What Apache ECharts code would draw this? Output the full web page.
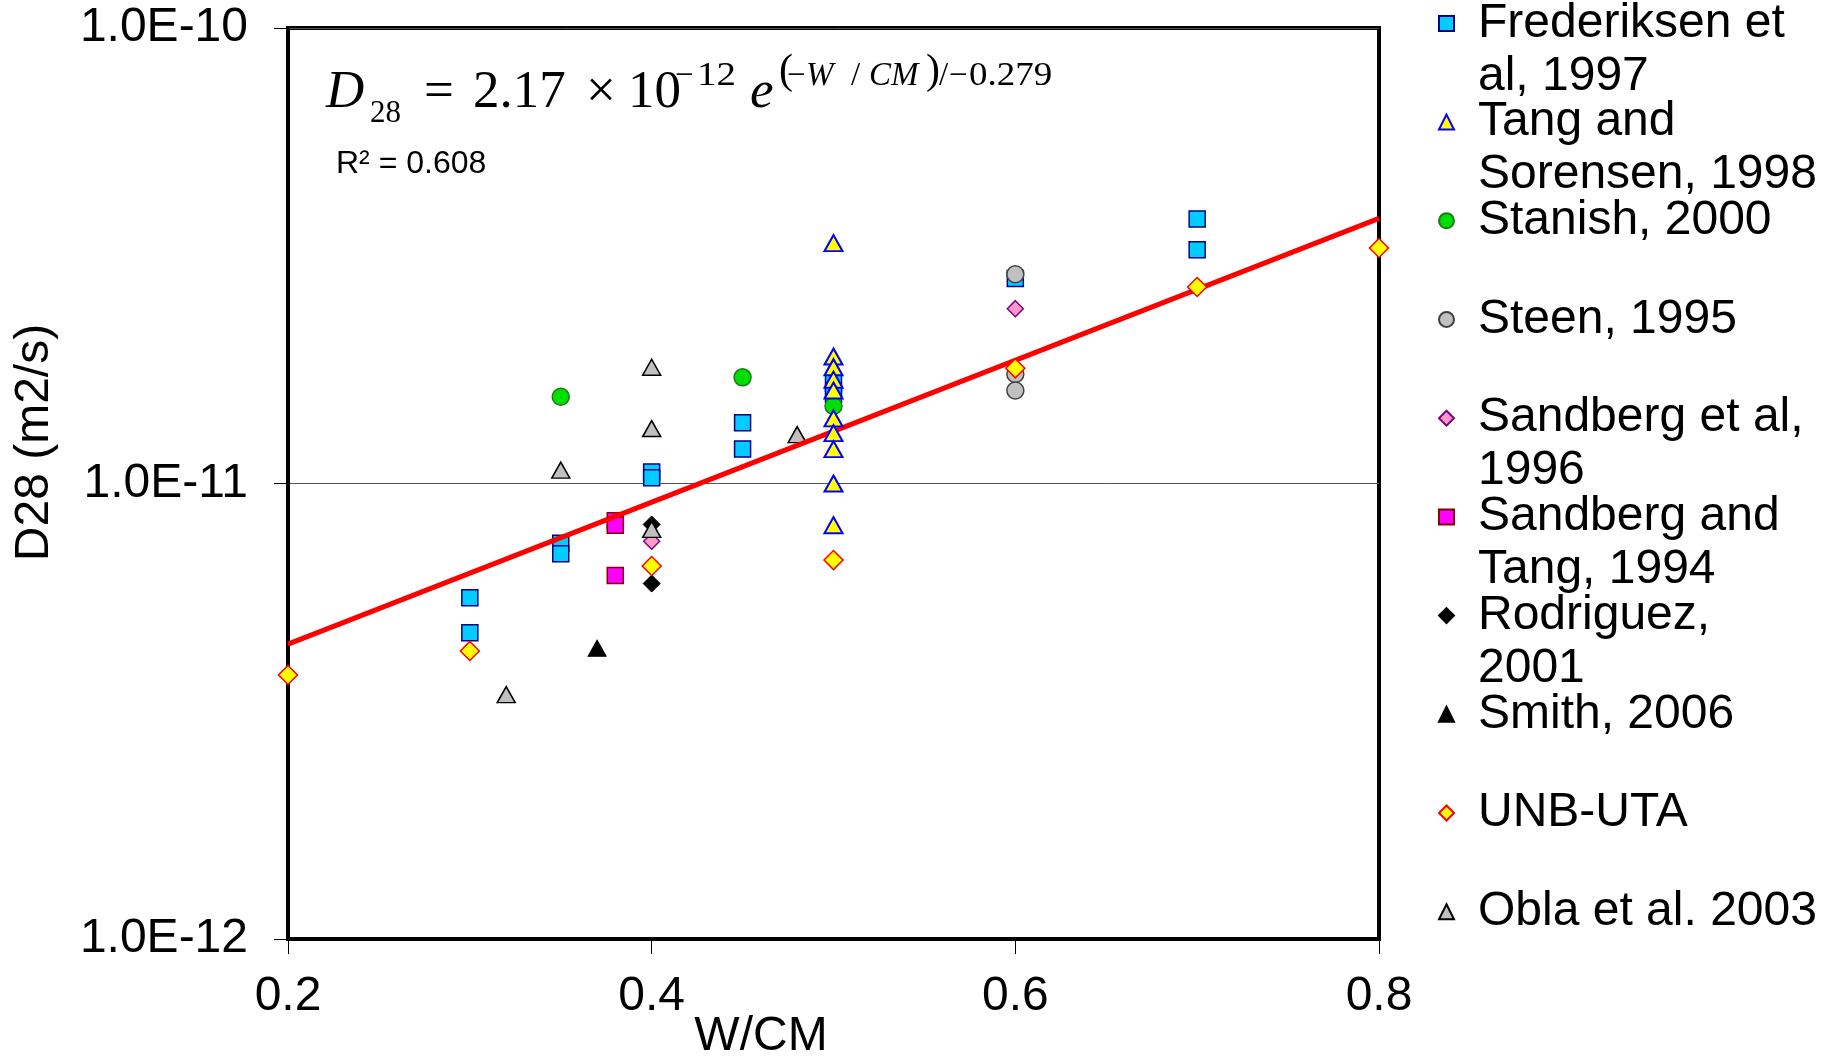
<!DOCTYPE html>
<html>
<head>
<meta charset="utf-8">
<title>D28 vs W/CM</title>
<script src="https://cdn.jsdelivr.net/npm/echarts@6/dist/echarts.min.js"></script>
<style>
  html, body { margin: 0; padding: 0; background: #ffffff; }
  #chart { width: 1831px; height: 1059px; }
</style>
</head>
<body>
<div id="chart"></div>
<script>
// 28-day chloride diffusion coefficient (m2/s) against water / cementitious ratio
const seriesNames = [
  'Frederiksen et al, 1997', 'Tang and Sorensen, 1998', 'Stanish, 2000', 'Steen, 1995',
  'Sandberg et al, 1996', 'Sandberg and Tang, 1994', 'Rodriguez, 2001', 'Smith, 2006',
  'UNB-UTA', 'Obla et al. 2003'
];
const legendLabels = [
  'Frederiksen et\nal, 1997', 'Tang and\nSorensen, 1998', 'Stanish, 2000', 'Steen, 1995',
  'Sandberg et al,\n1996', 'Sandberg and\nTang, 1994', 'Rodriguez,\n2001', 'Smith, 2006',
  'UNB-UTA', 'Obla et al. 2003'
];

// [W/CM, D28]
const frederiksen = [
  [0.30, 5.61e-12], [0.30, 4.70e-12], [0.35, 7.39e-12], [0.35, 7.01e-12],
  [0.40, 1.06e-11], [0.40, 1.03e-11], [0.45, 1.36e-11], [0.45, 1.19e-11],
  [0.50, 1.66e-11], [0.50, 1.57e-11], [0.60, 2.82e-11], [0.70, 3.81e-11], [0.70, 3.26e-11]
];
const tangSorensen = [
  [0.50, 3.37e-11], [0.50, 1.90e-11], [0.50, 1.80e-11], [0.50, 1.69e-11], [0.50, 1.60e-11],
  [0.50, 1.39e-11], [0.50, 1.29e-11], [0.50, 1.19e-11], [0.50, 1.00e-11], [0.50, 8.10e-12]
];
const stanish = [[0.35, 1.55e-11], [0.45, 1.71e-11], [0.50, 1.48e-11]];
const steen = [[0.60, 2.88e-11], [0.60, 1.74e-11], [0.60, 1.60e-11]];
const sandberg1996 = [[0.40, 7.47e-12], [0.60, 2.42e-11]];
const sandbergTang = [[0.38, 8.28e-12], [0.38, 8.10e-12], [0.38, 6.28e-12]];
const rodriguez = [[0.40, 8.13e-12], [0.40, 6.03e-12]];
const smith = [[0.37, 4.35e-12]];
const unbUta = [
  [0.20, 3.80e-12], [0.30, 4.29e-12], [0.40, 6.59e-12], [0.50, 6.79e-12],
  [0.60, 1.79e-11], [0.70, 2.70e-11], [0.80, 3.29e-11]
];
const obla = [
  [0.32, 3.44e-12], [0.35, 1.07e-11], [0.40, 1.80e-11], [0.40, 1.32e-11],
  [0.40, 7.93e-12], [0.48, 1.28e-11]
];
// exponential fit, straight on the log axis: end points at W/CM = 0.2 and 0.8
const trendLine = [[0.20, 4.44e-12], [0.80, 3.82e-11]];

const xTicks = [0.2, 0.4, 0.6, 0.8];
const yTicks = [1e-12, 1e-11, 1e-10];

const SANS = '"Liberation Sans", Arial, sans-serif';
const SERIF = '"Liberation Serif", "Times New Roman", serif';
const FONT_SIZE = 48;

// marker look for each study
const markerStyles = [
  { symbol: 'rect', size: 16, color: '#00ccff', border: '#000080', bw: 1.5 },
  { symbol: 'triangle', size: [18, 16], color: '#ffff00', border: '#0000ff', bw: 2 },
  { symbol: 'circle', size: 17, color: '#00e000', border: '#1b7a1b', bw: 1.5 },
  { symbol: 'circle', size: 17, color: '#c0c0c0', border: '#404040', bw: 1.5 },
  { symbol: 'diamond', size: 16, color: '#ff99cc', border: '#800080', bw: 1.5 },
  { symbol: 'rect', size: 16, color: '#ff00ff', border: '#800000', bw: 1.5 },
  { symbol: 'diamond', size: 17, color: '#000000', border: '#000000', bw: 1 },
  { symbol: 'triangle', size: [18, 16], color: '#000000', border: '#000000', bw: 1 },
  { symbol: 'diamond', size: 19, color: '#ffff00', border: '#ff0000', bw: 1.5 },
  { symbol: 'triangle', size: [18, 16], color: '#c0c0c0', border: '#000000', bw: 1.5 }
];
const seriesData = [frederiksen, tangSorensen, stanish, steen, sandberg1996,
  sandbergTang, rodriguez, smith, unbUta, obla];

const scatterSeries = seriesData.map((data, i) => ({
  name: seriesNames[i],
  type: 'scatter',
  data: data,
  symbol: markerStyles[i].symbol,
  symbolSize: markerStyles[i].size,
  clip: false,
  z: (i === 1 || i === 8) ? 4 : 2,
  itemStyle: {
    color: markerStyles[i].color,
    borderColor: markerStyles[i].border,
    borderWidth: markerStyles[i].bw,
    opacity: 1
  },
  emphasis: { disabled: true }
}));

// one legend block per study; an empty leading line keeps the marker on the first text line
const LINE_H = 53;
const legends = seriesNames.map((name, i) => {
  const twoLine = legendLabels[i].indexOf('\n') >= 0;
  const markerY = 23.4 + 98.7 * i;
  return {
    data: [name],
    left: 1438,
    top: markerY - (twoLine ? 1.5 : 0.5) * LINE_H,
    orient: 'vertical',
    padding: 0,
    itemWidth: 15,
    itemHeight: 15,
    selectedMode: false,
    formatter: () => (twoLine ? '\n' : '') + legendLabels[i],
    textStyle: {
      fontFamily: SANS,
      fontSize: FONT_SIZE,
      lineHeight: LINE_H,
      color: '#000000',
      padding: [0, 0, 0, 19]
    }
  };
});

// fitted equation, typeset piece by piece
const eqPieces = [
  { t: 'D', x: 326, base: 111, size: 53, italic: true },
  { t: '28', x: 370, base: 124, size: 31 },
  { t: '=', x: 424, base: 111, size: 53 },
  { t: '2.17', x: 473, base: 111, size: 53 },
  { t: '×', x: 586, base: 111, size: 53 },
  { t: '10', x: 628, base: 111, size: 53 },
  { t: '−', x: 675, base: 87, size: 33 },
  { t: '12', x: 697, base: 87, size: 33, sx: 1.18 },
  { t: 'e', x: 750, base: 111, size: 53, italic: true },
  { t: '(', x: 779, base: 86, size: 42 },
  { t: '−', x: 787, base: 87, size: 33 },
  { t: 'W', x: 806, base: 87, size: 33, italic: true },
  { t: '/', x: 851, base: 87, size: 33 },
  { t: 'CM', x: 869, base: 87, size: 33, italic: true },
  { t: ')', x: 926, base: 86, size: 42 },
  { t: '/', x: 939, base: 87, size: 33 },
  { t: '−', x: 949, base: 87, size: 33 },
  { t: '0.279', x: 969, base: 87, size: 33, sx: 1.12 }
];
const graphics = eqPieces.map(p => ({
  type: 'text',
  x: p.x,
  y: p.base - 0.3375 * p.size,
  scaleX: p.sx || 1,
  silent: true,
  z: 10,
  style: {
    text: p.t,
    font: (p.italic ? 'italic ' : '') + p.size + 'px ' + SERIF,
    fill: '#000000',
    align: 'left',
    verticalAlign: 'middle'
  }
}));
graphics.push({
  type: 'text',
  x: 336,
  y: 175 - 0.3465 * 32,
  silent: true,
  z: 10,
  style: {
    text: 'R² = 0.608',
    font: '32px ' + SANS,
    fill: '#000000',
    align: 'left',
    verticalAlign: 'middle'
  }
});

const chart = echarts.init(document.getElementById('chart'), null, { renderer: 'canvas' });
chart.setOption({
  animation: false,
  backgroundColor: '#ffffff',
  grid: {
    left: 288, right: 452, top: 28, bottom: 120,
    containLabel: false,
    outerBoundsMode: 'none',
    show: true, borderColor: '#000000', borderWidth: 4, backgroundColor: 'transparent'
  },
  xAxis: {
    type: 'value',
    min: xTicks[0],
    max: xTicks[xTicks.length - 1],
    interval: 0.2,
    name: 'W/CM',
    nameLocation: 'middle',
    nameGap: 74,
    nameMoveOverlap: false,
    nameTextStyle: { fontFamily: SANS, fontSize: FONT_SIZE, color: '#000000', padding: [0, 145, 0, 0] },
    axisLine: { show: true, lineStyle: { color: '#000000', width: 4 } },
    axisTick: { show: true, length: 15, lineStyle: { color: '#000000', width: 1 } },
    axisLabel: {
      fontFamily: SANS, fontSize: FONT_SIZE, color: '#000000', margin: 34,
      formatter: v => Number(v).toFixed(1)
    },
    splitLine: { show: false }
  },
  yAxis: {
    type: 'log',
    logBase: 10,
    min: yTicks[0],
    max: yTicks[yTicks.length - 1],
    name: 'D28 (m2/s)',
    nameLocation: 'middle',
    nameGap: 229,
    nameMoveOverlap: false,
    nameTextStyle: { fontFamily: SANS, fontSize: FONT_SIZE, color: '#000000', padding: [0, 0, 0, 82] },
    axisLine: { show: true, lineStyle: { color: '#000000', width: 4 } },
    axisTick: { show: true, length: 14, lineStyle: { color: '#000000', width: 1 } },
    minorTick: { show: false },
    axisLabel: {
      fontFamily: SANS, fontSize: FONT_SIZE, color: '#000000', margin: 40,
      formatter: v => Number(v).toExponential(1).toUpperCase()
    },
    splitLine: { show: true, lineStyle: { color: '#555555', width: 1 } }
  },
  legend: legends,
  graphic: graphics,
  series: scatterSeries.concat([{
    name: 'trend',
    type: 'line',
    data: trendLine,
    showSymbol: false,
    symbol: 'none',
    clip: false,
    z: 3,
    lineStyle: { color: '#ff0000', width: 5 },
    emphasis: { disabled: true }
  }])
});
</script>
</body>
</html>
